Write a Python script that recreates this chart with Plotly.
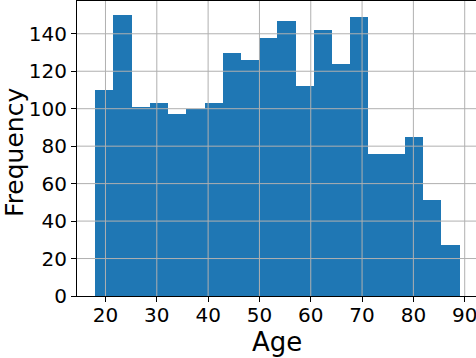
import numpy as np
import plotly.graph_objects as go

# histogram of Age, 20 equal bins between min and max age
age_min, age_max = 18, 89
n_bins = 20
counts = [110, 150, 101, 103, 97, 100, 103, 130, 126, 138,
          147, 112, 142, 124, 149, 76, 76, 85, 51, 27]
x_ticks = [20, 30, 40, 50, 60, 70, 80, 90]
y_ticks = [0, 20, 40, 60, 80, 100, 120, 140]

edges = np.linspace(age_min, age_max, n_bins + 1)
width = edges[1] - edges[0]

fig = go.Figure(go.Bar(
    x=edges[:-1], y=counts, width=width, offset=0,
    marker=dict(color="#1f77b4", line=dict(width=0)),
))

# matplotlib draws the grid on top of the bars here
grid = dict(color="#b0b0b0", width=1)
for t in x_ticks:
    fig.add_shape(type="line", xref="x", yref="paper", x0=t, x1=t, y0=0, y1=1,
                  line=grid, layer="above")
for t in y_ticks[1:]:
    fig.add_shape(type="line", xref="paper", yref="y", x0=0, x1=1, y0=t, y1=t,
                  line=grid, layer="above")

# axis titles as annotations so they sit where matplotlib put them
fig.add_annotation(text="Age", xref="paper", yref="paper", x=0.5, y=0,
                   yanchor="middle", yshift=-46, showarrow=False,
                   font=dict(size=26))
fig.add_annotation(text="Frequency", xref="paper", yref="paper", x=0, y=0.485,
                   xanchor="center", xshift=-62, textangle=-90, showarrow=False,
                   font=dict(size=25))

font = "DejaVu Sans, sans-serif"
fig.update_layout(
    width=476, height=358,
    margin=dict(l=77, r=0, t=1, b=62),
    paper_bgcolor="white", plot_bgcolor="white",
    bargap=0, showlegend=False,
    font=dict(family=font, color="black"),
    xaxis=dict(
        range=[age_min - 0.05 * (age_max - age_min), 92.2],
        tickvals=x_ticks, showgrid=False, zeroline=False, automargin=False,
        showline=True, linecolor="black", linewidth=1, mirror=True,
        ticks="outside", ticklen=5, tickcolor="black",
        tickfont=dict(size=20), ticklabeloverflow="allow",
        ticklabelstandoff=-4,
    ),
    yaxis=dict(
        range=[0, 157.5],
        tickvals=y_ticks, showgrid=False, zeroline=False, automargin=False,
        showline=True, linecolor="black", linewidth=1,
        ticks="outside", ticklen=5, tickcolor="black",
        tickfont=dict(size=20),
    ),
)

# drop the browser's default 8px body margin so the figure fills the window
fig.write_html("out.html", config={"displayModeBar": False},
               post_script="document.body.style.margin='0';")
